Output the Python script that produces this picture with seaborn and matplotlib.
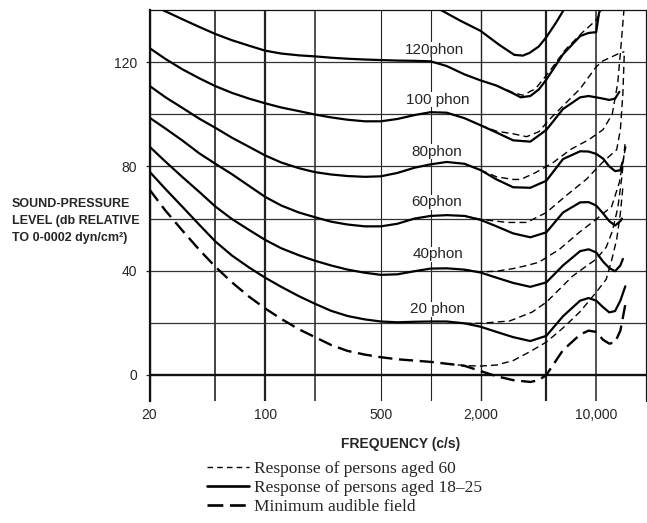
import matplotlib
matplotlib.use("Agg")
import matplotlib.pyplot as plt
from matplotlib.lines import Line2D
import pandas as pd
import seaborn as sns

# ---------------------------------------------------------------------------
# Equal-loudness contours (sound-pressure level in dB vs frequency in c/s)
# ---------------------------------------------------------------------------

# persons aged 18-25 (solid)
f_140 = [800, 1000, 1100, 1500, 2000, 2600, 3200, 3600, 3950, 4500, 5000, 5700, 6500]
L_140 = [143, 141.5, 140.7, 136, 132, 126.6, 122.8, 122.5, 123.5, 126, 129.6, 135, 141]

f_120 = [22, 24, 31.5, 40, 50, 63, 80, 100, 125, 160, 200, 250, 315, 400, 500, 630, 800,
         1000, 1250, 1600, 2000, 2500, 3150, 3500, 4000, 4500, 5000, 6300, 8000, 9000,
         10000, 10400, 11200]
L_120 = [141.3, 140, 136.5, 133.5, 130.8, 128.4, 126.3, 124.4, 123.3, 122.6, 122.2, 121.7,
         121.3, 121, 120.8, 120.6, 120.5, 120.3, 118.5, 115.3, 113, 111, 108, 106.5, 107,
         109.5, 113.3, 123, 130, 131.2, 131.5, 138.8, 144]

f_100 = [20, 25, 31.5, 40, 50, 63, 80, 100, 125, 160, 200, 250, 315, 400, 500, 630, 800,
         1000, 1250, 1600, 2000, 2500, 3150, 4000, 5000, 6300, 8000, 9000, 10000, 11000,
         12000, 13000, 13800]
L_100 = [125.4, 121.2, 117.3, 113.8, 110.8, 108.2, 106, 104.2, 102.6, 101.2, 99.9, 98.8,
         97.9, 97.3, 97.3, 98.2, 99.7, 100.8, 100.6, 98.5, 95.8, 93, 90, 89.5, 94, 102,
         106.5, 107, 106.5, 106, 105.5, 106, 108.6]

f_80 = [20, 25, 31.5, 40, 50, 63, 80, 100, 125, 160, 200, 250, 315, 400, 500, 630, 800,
        1000, 1250, 1600, 2000, 2500, 3150, 4000, 5000, 6300, 8000, 9000, 10000, 11000,
        12000, 13000, 14000, 14400]
L_80 = [110.9, 106.5, 102.5, 98.3, 94.8, 91, 87.5, 84.2, 81.5, 79.3, 77.8, 76.9, 76.3, 76,
        76.2, 77.5, 79.5, 80.8, 81.7, 81, 78.6, 75, 72, 71.8, 74.5, 82.8, 85.8, 85.7, 84.8,
        83, 80, 78.2, 78.5, 81.5]

f_60 = [20, 25, 31.5, 40, 50, 63, 80, 100, 125, 160, 200, 250, 315, 400, 500, 630, 800,
        1000, 1250, 1600, 2000, 2500, 3150, 4000, 5000, 6300, 8000, 9000, 10000, 11000,
        12000, 13000, 14000, 14300]
L_60 = [98.7, 94.5, 90, 85, 81, 77, 72.5, 68.3, 65, 62.3, 60.5, 58.8, 57.7, 57, 57, 58, 60,
        61, 61.3, 61, 59.5, 57, 54.3, 52.8, 54.7, 62.3, 66.2, 66.3, 65, 62, 59, 57.3, 59, 60]

f_40 = [20, 25, 31.5, 40, 50, 63, 80, 100, 125, 160, 200, 250, 315, 400, 500, 630, 800,
        1000, 1250, 1600, 2000, 2500, 3150, 4000, 5000, 6300, 8000, 9000, 10000, 11000,
        12000, 13000, 14000, 14500]
L_40 = [87.6, 81.8, 76, 70.2, 64.6, 59.8, 55.6, 51.8, 48.6, 45.9, 43.8, 42, 40.4, 39.2,
        38.4, 38.6, 39.8, 40.8, 40.9, 40.4, 39.3, 37.3, 35.3, 33.8, 35.5, 42, 47.5, 48.2, 47,
        43.5, 41, 39.8, 42, 44.5]

f_20 = [20, 25, 31.5, 40, 50, 63, 80, 100, 125, 160, 200, 250, 315, 400, 500, 630, 800,
        1000, 1250, 1600, 2000, 2500, 3150, 4000, 5000, 6300, 8000, 9000, 10000, 11000,
        12000, 13000, 14000, 15000]
L_20 = [78, 71.3, 64.6, 57.6, 51.2, 45.8, 41.2, 37.3, 33.8, 30.2, 27.3, 24.6, 22.6, 21.3,
        20.5, 20.2, 20.4, 20.5, 20.5, 19.8, 18.5, 16.5, 14.5, 13, 15, 22.5, 28.5, 29.5, 28.5,
        26, 24, 24.5, 28.5, 34]

# minimum audible field (long dashes)
f_maf = [20, 25, 31.5, 40, 50, 63, 80, 100, 125, 160, 200, 250, 315, 400, 500, 630, 800,
         1000, 1250, 1600, 2000, 2500, 3150, 4000, 4500, 5000, 6300, 8000, 9000, 10000,
         11000, 12000, 13000, 14000, 15000]
L_maf = [71.1, 63, 55.5, 48, 41.5, 35.5, 30, 25.5, 21.5, 17.5, 14.5, 11.5, 9.2, 7.8, 6.8, 6,
         5.5, 5, 4.3, 3.5, 1.5, -0.5, -2, -2.7, -2, 0, 9.5, 15.5, 17, 16.5, 13.5, 12, 12.5,
         17, 27]

# persons aged 60 (short dashes), high-frequency branches
f_120_60 = [2500, 3150, 3600, 4300, 5200, 6500, 8200, 10000, 11000]
L_120_60 = [111, 108.3, 107.3, 109.8, 116.3, 124.7, 131.2, 136.1, 141]

f_100_60 = [2000, 2500, 3150, 3800, 4500, 5200, 6300, 8000, 10000, 11000, 12400, 13900, 14800]
L_100_60 = [95.8, 93.5, 92.5, 91.4, 93.3, 97.9, 103.2, 109.8, 118.2, 120.5, 122, 123.5, 124]

f_80_60 = [2000, 2500, 3150, 3500, 4300, 5500, 7000, 9000, 11000, 12500, 13500, 14200, 14800]
L_80_60 = [78.6, 76, 75, 75, 77.6, 81.5, 86.5, 90.2, 94.1, 100, 112, 128, 142]

f_60_60 = [1600, 2000, 2900, 3800, 5000, 6500, 8700, 10900, 13300, 14000, 14500, 14800]
L_60_60 = [61, 59.7, 58.5, 58.5, 62.3, 68.5, 75, 81.5, 86.4, 94, 108, 124]

f_40_60 = [1600, 2000, 2500, 3150, 3650, 4500, 6000, 7900, 10000, 12400, 13800, 14800, 15300]
L_40_60 = [40.3, 39.5, 39.8, 40.8, 41.7, 43.2, 48.2, 54.7, 59.7, 64.6, 73.8, 85, 89]

f_20_60 = [1600, 2000, 3000, 4100, 5000, 6000, 7200, 8700, 10000, 11500, 12500, 13500, 14300, 15000]
L_20_60 = [19.8, 19.8, 20.7, 24.1, 27.9, 32.9, 37.9, 41.7, 44.4, 49, 55, 64, 76, 90]

f_thr_60 = [1250, 1600, 2000, 2500, 3150, 4000, 5000, 6300, 8000, 10000, 11500, 12400, 13300, 14000, 14500]
L_thr_60 = [4.3, 3.6, 3.4, 3.8, 5.5, 9, 12.6, 18, 24.3, 31.7, 36.7, 44, 52, 62, 72]

# contour labels (phon) and their positions
phon_names = ["120phon", "100 phon", "80phon", "60phon", "40phon", "20 phon"]
phon_label_db = [124.7, 105.5, 85.7, 66.2, 46.3, 25.2]
phon_label_freq = [1060, 1110, 1090, 1090, 1100, 1100]

# axes furniture
grid_freqs = [20, 50, 100, 200, 500, 1000, 2000, 5000, 10000, 20000]
grid_freq_widths = [1.6, 1.2, 1.6, 1.1, 0.8, 0.8, 1.0, 1.6, 1.1, 0.8]
grid_levels = [0, 20, 40, 60, 80, 100, 120]
xtick_vals = [20, 100, 500, 2000, 10000]
xtick_text = ["20", "100", "500", "2,000", "10,000"]
ytick_vals = [0, 40, 80, 120]
ytick_text = ["0", "40", "80", "120"]

legend_text = ["Response of persons aged 60",
               "Response of persons aged 18\u201325",
               "Minimum audible field"]

# ---------------------------------------------------------------------------
curves = [
    ("140", "young", f_140, L_140),
    ("120", "young", f_120, L_120),
    ("100", "young", f_100, L_100),
    ("80", "young", f_80, L_80),
    ("60", "young", f_60, L_60),
    ("40", "young", f_40, L_40),
    ("20", "young", f_20, L_20),
    ("maf", "maf", f_maf, L_maf),
    ("120_60", "old", f_120_60, L_120_60),
    ("100_60", "old", f_100_60, L_100_60),
    ("80_60", "old", f_80_60, L_80_60),
    ("60_60", "old", f_60_60, L_60_60),
    ("40_60", "old", f_40_60, L_40_60),
    ("20_60", "old", f_20_60, L_20_60),
    ("thr_60", "old", f_thr_60, L_thr_60),
]
rows = []
for name, group, fs, ls in curves:
    for f, l in zip(fs, ls):
        rows.append({"curve": name, "group": group, "freq": f, "spl": l})
df = pd.DataFrame(rows)

sns.set_style("white")
plt.rcParams["font.family"] = ["Liberation Sans", "DejaVu Sans"]

W, H = 647, 523
fig = plt.figure(figsize=(W / 100, H / 100), dpi=100)
ax = fig.add_axes([149.5 / W, 1 - 401 / H, (646 - 149.5) / W, (401 - 10) / H])
ax.set_xscale("log")
ax.set_xlim(20, 20000)
ax.set_ylim(-10, 140)

# grid
for f, w in zip(grid_freqs, grid_freq_widths):
    ax.axvline(f, color="#222222", lw=w, zorder=1)
for lv in grid_levels:
    ax.axhline(lv, color="#333333" if lv else "#111111", lw=1.7 if lv == 0 else 0.9, zorder=1)

styles = {
    "young": dict(lw=1.6, linestyle="-"),
    "maf": dict(lw=1.7, linestyle=(0, (6, 2.8))),
    "old": dict(lw=1.0, linestyle=(0, (5, 3))),
}
for name, group, fs, ls in curves:
    sub = df[df["curve"] == name]
    sns.lineplot(data=sub, x="freq", y="spl", sort=False, estimator=None,
                 color="black", ax=ax, legend=False, zorder=3, **styles[group])

for txt, lv, f in zip(phon_names, phon_label_db, phon_label_freq):
    ax.text(f, lv, txt, ha="center", va="center", fontsize=11, zorder=4,
            bbox=dict(facecolor="white", edgecolor="none", pad=0.3))

# axes decoration
ax.spines["bottom"].set_visible(False)
ax.spines["left"].set_linewidth(1.6)
ax.spines["top"].set_linewidth(0.9)
ax.spines["right"].set_linewidth(0.8)
for s in ax.spines.values():
    s.set_color("#111111")

ax.set_xticks(xtick_vals)
ax.set_xticklabels(xtick_text)
ax.xaxis.set_minor_locator(matplotlib.ticker.NullLocator())
ax.set_yticks(ytick_vals)
ax.set_yticklabels(ytick_text)
ax.tick_params(axis="x", length=0, pad=5, labelsize=10)
ax.tick_params(axis="y", length=3, width=0.9, pad=6, labelsize=10, left=True)
ax.set_xlabel("")
ax.set_ylabel("")

fig.text(401 / W, 1 - 444 / H, "FREQUENCY (c/s)", ha="center", va="center",
         fontsize=10, fontweight="bold")
fig.text(12 / W, 1 - 221 / H, "SOUND-PRESSURE\nLEVEL (db RELATIVE\nTO 0-0002 dyn/cm\u00b2)",
         ha="left", va="center", fontsize=9, fontweight="bold", linespacing=1.55)

handles = [
    Line2D([], [], color="black", lw=1.0, linestyle=(0, (4, 3))),
    Line2D([], [], color="black", lw=1.9),
    Line2D([], [], color="black", lw=1.9, linestyle=(0, (6, 2.5))),
]
fig.legend(handles, legend_text, loc="upper left",
           bbox_to_anchor=(207 / W, 1 - 461 / H), frameon=False,
           prop={"family": ["Liberation Serif", "DejaVu Serif"], "size": 12.5},
           handlelength=2.4, handletextpad=0.3, labelspacing=0.17,
           borderaxespad=0, borderpad=0)

fig.savefig("out.png", dpi=100)
